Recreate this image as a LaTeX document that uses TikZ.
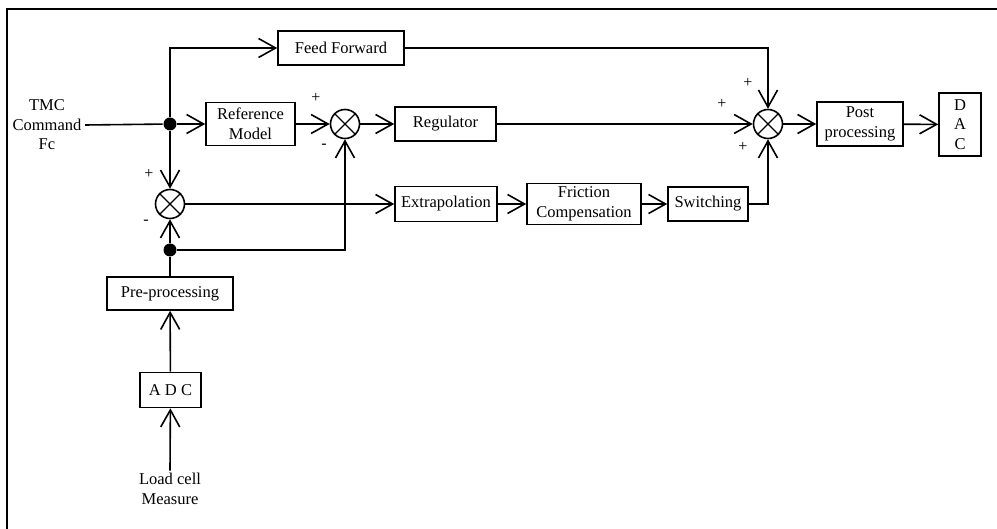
\documentclass[tikz,border=0pt]{standalone}
\usepackage{fontspec}
\setmainfont{Liberation Serif}
\usetikzlibrary{arrows.meta}
\begin{document}
\begin{tikzpicture}[x=1pt,y=-1pt,
  font=\fontsize{16.5}{19.5}\selectfont,
  line width=1.6pt,
  blk/.style={draw, rectangle, inner sep=0pt, align=center},
  sumnode/.style={draw, circle, inner sep=0pt, minimum size=29pt},
  dotnode/.style={circle, fill=black, inner sep=0pt, minimum size=13pt},
  arr/.style={-{Straight Barb[length=17pt,width=19pt,line width=1.6pt]}},
  sgn/.style={inner sep=0pt, font=\fontsize{16}{18}\selectfont}
]
\useasboundingbox (0,0) rectangle (997,529);
% frame
\draw[line width=1.8pt] (7,529) -- (7,9) -- (997,9);

% blocks
\node[blk, minimum width=126pt, minimum height=34pt] (ff) at (341,48) {Feed Forward};
\node[blk, minimum width=89pt, minimum height=43pt] (ref) at (250.5,124) {Reference\\Model};
\node[blk, minimum width=101pt, minimum height=34pt] (reg) at (445.5,124) {Regulator};
\node[blk, minimum width=86pt, minimum height=44pt] (post) at (860,124) {Post\\processing};
\node[blk, minimum width=42pt, minimum height=63pt] (dac) at (960,124.5) {D\\A\\C};
\node[blk, minimum width=102pt, minimum height=35pt] (extra) at (446,204) {Extrapolation};
\node[blk, minimum width=114pt, minimum height=41pt] (fric) at (584,204) {Friction\\Compensation};
\node[blk, minimum width=80pt, minimum height=34pt] (sw) at (708,204) {Switching};
\node[blk, minimum width=126pt, minimum height=33pt] (pre) at (170,293.5) {Pre-processing};
\node[blk, minimum width=61pt, minimum height=35pt] (adc) at (170.5,390) {A D C};

% sums
\node[sumnode] (s1) at (170,204) {};
\node[sumnode] (s2) at (345,124) {};
\node[sumnode] (s3) at (768,124) {};
\foreach \s in {s1,s2,s3}{
  \draw[line width=1.3pt] (\s.north west) -- (\s.south east);
  \draw[line width=1.3pt] (\s.north east) -- (\s.south west);
}

% dots
\node[dotnode] (d1) at (170,124) {};
\node[dotnode] (d2) at (170,250) {};

% texts
\node[align=center, inner sep=3pt] (tmc) at (47,125) {TMC\\Command\\Fc};
\node[align=center, inner sep=2pt] (load) at (170,489) {Load cell\\Measure};

% signs
\node[sgn] at (316,98) {+};
\node[sgn] at (324,146) {-};
\node[sgn] at (149,174) {+};
\node[sgn] at (146,222) {-};
\node[sgn] at (748,83) {+};
\node[sgn] at (722,104) {+};
\node[sgn] at (743,147) {+};

% connectors
\draw (tmc.east) -- (d1);
\draw[arr] (d1) -- (ref);
\draw[arr] (d1) |- (ff);
\draw[arr] (d1) -- (s1);
\draw[arr] (ref) -- (s2);
\draw[arr] (s2) -- (reg);
\draw[arr] (reg) -- (s3);
\draw[arr] (ff) -| (s3);
\draw[arr] (s3) -- (post);
\draw[arr] (post) -- (dac);
\draw[arr] (s1) -- (extra);
\draw[arr] (extra) -- (fric);
\draw[arr] (fric) -- (sw);
\draw[arr] (sw) -| (s3);
\draw[arr] (d2) -- (s1);
\draw[arr] (d2) -| (s2);
\draw (pre) -- (d2);
\draw[arr] (adc) -- (pre);
\draw[arr] (load.north) -- (adc);
\end{tikzpicture}
\end{document}
